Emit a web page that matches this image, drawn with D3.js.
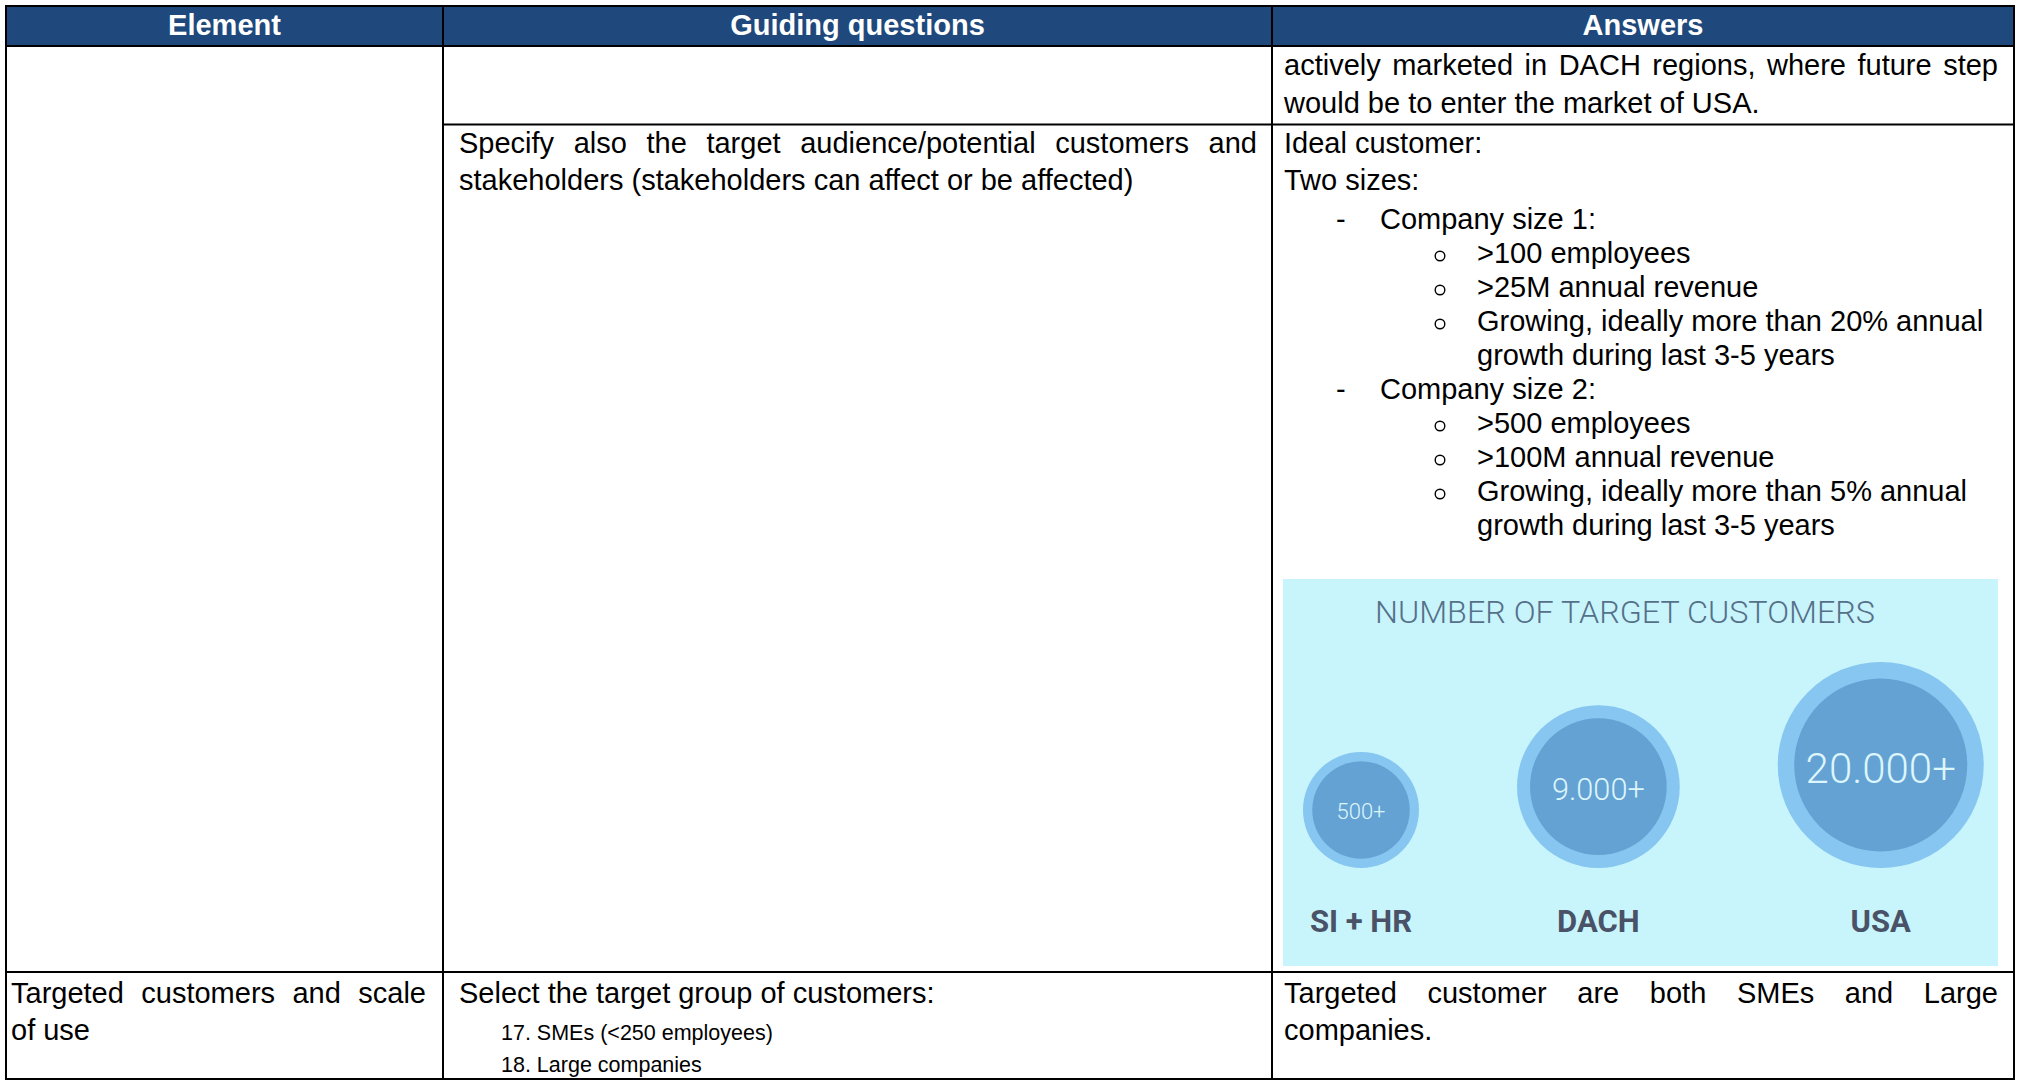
<!DOCTYPE html>
<html><head><meta charset="utf-8">
<script src="https://cdn.jsdelivr.net/npm/d3@7"></script>
<style>html,body{margin:0;padding:0;background:#fff;overflow:hidden}</style>
</head><body>
<svg id="c" width="2020" height="1082"></svg>
<script>
// ---------- data ----------
const headers = ["Element", "Guiding questions", "Answers"];
const row1Answer = ["actively marketed in DACH regions, where future step", "would be to enter the market of USA."];
const row2Question = ["Specify also the target audience/potential customers and", "stakeholders (stakeholders can affect or be affected)"];
const row2Answer = ["Ideal customer:", "Two sizes:", "Company size 1:", ">100 employees", ">25M annual revenue",
  "Growing, ideally more than 20% annual", "growth during last 3-5 years", "Company size 2:", ">500 employees",
  ">100M annual revenue", "Growing, ideally more than 5% annual", "growth during last 3-5 years"];
const row2AnswerLevels = [0, 0, 1, 2, 2, 2, 3, 1, 2, 2, 2, 3];
const row3Element = ["Targeted customers and scale", "of use"];
const row3Question = ["Select the target group of customers:"];
const row3Options = ["17. SMEs (<250 employees)", "18. Large companies"];
const row3Answer = ["Targeted customer are both SMEs and Large", "companies."];
const chartTitle = "NUMBER OF TARGET CUSTOMERS";
const regions = ["SI + HR", "DACH", "USA"];
const customerCounts = [500, 9000, 20000];
const countLabels = ["500+", "9.000+", "20.000+"];

// ---------- setup ----------
const svg = d3.select("#c");
const FONT = "'Liberation Sans', Arial, sans-serif";
const FS = 29;
const colX = [6, 443, 1272, 2014];
const T = { top: 6, head: 46, r1: 124.5, r2: 972, bottom: 1079 };

function measure(txt, size, weight) {
  const t = svg.append("text").attr("font-family", FONT).attr("font-size", size)
    .attr("font-weight", weight || "normal").text(txt);
  const w = t.node().getComputedTextLength();
  t.remove();
  return w;
}
function textLine(g, txt, x, y, opts) {
  opts = opts || {};
  return g.append("text").attr("x", x).attr("y", y)
    .attr("font-family", FONT).attr("font-size", opts.size || FS)
    .attr("font-weight", opts.weight || "normal")
    .attr("fill", opts.fill || "#000")
    .attr("text-anchor", opts.anchor || "start").text(txt);
}
function justify(g, txt, x0, x1, y, size) {
  const words = txt.split(" ");
  const ws = words.map(w => measure(w, size || FS));
  const total = d3.sum(ws);
  const gap = (x1 - x0 - total) / (words.length - 1);
  let x = x0;
  words.forEach((w, i) => { textLine(g, w, x, y, { size: size }); x += ws[i] + gap; });
}

// ---------- header ----------
svg.append("rect").attr("x", colX[0]).attr("y", T.top).attr("width", colX[3] - colX[0])
  .attr("height", T.head - T.top).attr("fill", "#1f497d");
headers.forEach((h, i) => {
  textLine(svg, h, (colX[i] + colX[i + 1]) / 2, 35, { weight: "bold", fill: "#fff", anchor: "middle" });
});

// ---------- body text ----------
const body = svg.append("g");
const c2x = 459;
// row 1
justify(body, row1Answer[0], 1284, 1998, 75);
textLine(body, row1Answer[1], 1284, 113);
// row 2 question
justify(body, row2Question[0], c2x, 1257, 153);
textLine(body, row2Question[1], c2x, 190);
// row 2 answer
const indentText = [1284, 1380, 1477, 1477];
row2Answer.forEach((line, i) => {
  const y = i < 2 ? 153 + 37 * i : 229 + 34 * (i - 2);
  const lv = row2AnswerLevels[i];
  textLine(body, line, indentText[lv], y);
  if (lv === 1) textLine(body, "-", 1336, y);
  if (lv === 2) body.append("circle").attr("cx", 1440).attr("cy", y - 7).attr("r", 4.8)
    .attr("fill", "none").attr("stroke", "#000").attr("stroke-width", 1.4);
});
// row 3
justify(body, row3Element[0], 11, 426, 1003);
textLine(body, row3Element[1], 11, 1040);
textLine(body, row3Question[0], c2x, 1003);
row3Options.forEach((o, i) => textLine(body, o, 501, 1040 + 32 * i, { size: 21.5 }));
justify(body, row3Answer[0], 1284, 1998, 1003);
textLine(body, row3Answer[1], 1284, 1040);

// ---------- embedded bubble chart ----------
const panel = { x: 1283, y: 579, w: 715, h: 387 };
const chart = svg.append("g");
chart.append("rect").attr("x", panel.x).attr("y", panel.y).attr("width", panel.w).attr("height", panel.h)
  .attr("fill", "#c8f5fb");
chart.append("text").attr("x", 1375).attr("y", 623).attr("textLength", 500).attr("lengthAdjust", "spacingAndGlyphs")
  .attr("font-family", "Roboto, sans-serif").attr("font-weight", 300).attr("font-size", 32)
  .attr("fill", "#56708a").text(chartTitle);

const rScale = d3.scalePow().exponent(0.75).domain(d3.extent(customerCounts)).range([58, 103]);
const fScale = d3.scaleLinear().domain(d3.extent(customerCounts)).range([22, 42]);
const bubbleBottom = 868, gapX = 98;
const nodes = [];
customerCounts.forEach((v, i) => {
  const r = rScale(v);
  const cx = i === 0 ? panel.x + 20 + r : nodes[i - 1].cx + nodes[i - 1].r + gapX + r;
  nodes.push({ name: regions[i], value: v, label: countLabels[i], r: r, cx: cx, cy: bubbleBottom - r });
});
const b = chart.selectAll("g.bubble").data(nodes).join("g").attr("class", "bubble");
b.append("circle").attr("cx", d => d.cx).attr("cy", d => d.cy).attr("r", d => d.r).attr("fill", "#86c6f0");
b.append("circle").attr("cx", d => d.cx).attr("cy", d => d.cy).attr("r", d => d.r * 0.84).attr("fill", "#64a2d4");
b.append("text").attr("x", d => d.cx).attr("y", d => d.cy).attr("dy", "0.42em")
  .attr("text-anchor", "middle").attr("font-family", "Roboto, sans-serif").attr("font-weight", 300)
  .attr("font-size", d => fScale(d.value)).attr("fill", "#dcf6fb").text(d => d.label);
b.append("text").attr("x", d => d.cx).attr("y", 932).attr("text-anchor", "middle")
  .attr("font-family", "Roboto, sans-serif").attr("font-weight", 700).attr("font-size", 31)
  .attr("fill", "#4a5268").text(d => d.name);

// ---------- grid lines ----------
const lines = [
  [colX[0], T.top, colX[3], T.top], [colX[0], T.bottom, colX[3], T.bottom],
  [colX[0], T.top, colX[0], T.bottom], [colX[3], T.top, colX[3], T.bottom],
  [colX[1], T.top, colX[1], T.bottom], [colX[2], T.top, colX[2], T.bottom],
  [colX[0], T.head, colX[3], T.head], [colX[1], T.r1, colX[3], T.r1], [colX[0], T.r2, colX[3], T.r2]
];
svg.append("g").selectAll("line").data(lines).join("line")
  .attr("x1", d => d[0]).attr("y1", d => d[1]).attr("x2", d => d[2]).attr("y2", d => d[3])
  .attr("stroke", "#000").attr("stroke-width", 2).attr("stroke-linecap", "square");
</script>
</body></html>
